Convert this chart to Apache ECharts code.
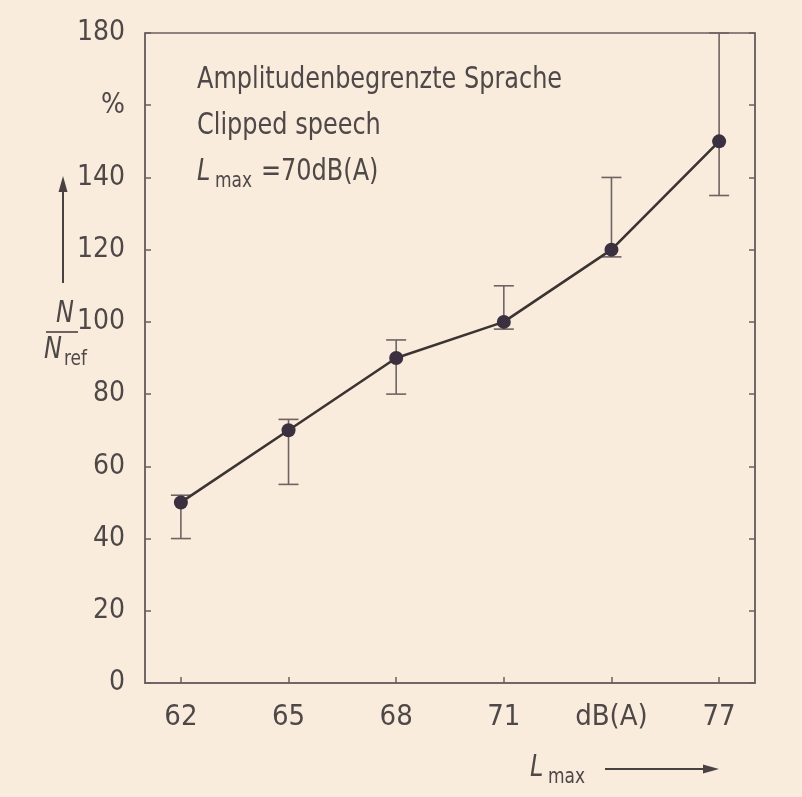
<!DOCTYPE html>
<html>
<head>
<meta charset="utf-8">
<script src="https://cdn.jsdelivr.net/npm/echarts@6/dist/echarts.min.js"></script>
<style>
html,body{margin:0;padding:0;background:#f9ecdc;}
#chart{width:802px;height:797px;}
</style>
</head>
<body>
<div id="chart"></div>
<script>
// Data
const xValues = [62, 65, 68, 71, 74, 77];
const yValues = [50, 70, 90, 100, 120, 150];
const errLow = [40, 55, 80, 98, 118, 135];
const errHigh = [52, 73, 95, 110, 140, 180];
const xTicks = [62, 65, 68, 71, 74, 77];
const xTickLabels = {62: '62', 65: '65', 68: '68', 71: '71', 74: 'dB(A)', 77: '77'};
const yTickLabels = {0:'0',20:'20',40:'40',60:'60',80:'80',100:'100',120:'120',140:'140',160:'%',180:'180'};
const textLines = ['Amplitudenbegrenzte Sprache', 'Clipped speech', '=70dB(A)'];

const FONT = '"DejaVu Sans Condensed", "DejaVu Sans", sans-serif';
const AX = '#6a5f5f';
const TXT = '#4f4848';
const DARK = '#4a4242';

const chart = echarts.init(document.getElementById('chart'), null, {renderer: 'canvas'});

const lineData = xValues.map((x, i) => [x, yValues[i]]);
const errData = xValues.map((x, i) => [x, errLow[i], errHigh[i]]);

function txt(left, top, text, size, italic, sx) {
  return {type: 'text', left: left, top: top, scaleX: sx || 0.86,
    style: {text: text, font: (italic ? 'italic ' : '') + size + 'px ' + FONT, fill: TXT}};
}

const option = {
  backgroundColor: '#f9ecdc',
  animation: false,
  grid: {left: 145, right: 47, top: 33, bottom: 114, show: true, borderColor: AX, borderWidth: 1.5, backgroundColor: 'transparent'},
  xAxis: {
    type: 'value', min: 61, max: 78,
    axisLine: {show: true, lineStyle: {color: AX, width: 1.5}},
    axisTick: {show: true, inside: true, length: 6, customValues: xTicks, lineStyle: {color: AX, width: 1.5}},
    axisLabel: {show: true, customValues: xTicks, margin: 20, color: TXT, fontFamily: FONT, fontSize: 29,
      formatter: v => xTickLabels[v]},
    splitLine: {show: false}
  },
  yAxis: [{
    type: 'value', min: 0, max: 180, interval: 20,
    axisLine: {show: true, lineStyle: {color: AX, width: 1.5}},
    axisTick: {show: true, inside: true, length: 6, lineStyle: {color: AX, width: 1.5}},
    axisLabel: {show: true, margin: 20, color: TXT, fontFamily: FONT, fontSize: 28,
      formatter: v => yTickLabels[v]},
    splitLine: {show: false}
  }, {
    type: 'value', min: 0, max: 180, interval: 20, position: 'right',
    axisLine: {show: true, lineStyle: {color: AX, width: 1.5}},
    axisTick: {show: true, inside: true, length: 6, lineStyle: {color: AX, width: 1.5}},
    axisLabel: {show: false},
    splitLine: {show: false}
  }],
  series: [{
    type: 'custom',
    data: errData,
    z: 2,
    renderItem: function (params, api) {
      const x = api.value(0);
      const lo = api.coord([x, api.value(1)]);
      const hi = api.coord([x, api.value(2)]);
      const hw = 10;
      const st = {stroke: '#6e6363', lineWidth: 1.6};
      return {type: 'group', children: [
        {type: 'line', shape: {x1: lo[0], y1: lo[1], x2: hi[0], y2: hi[1]}, style: st},
        {type: 'line', shape: {x1: lo[0]-hw, y1: lo[1], x2: lo[0]+hw, y2: lo[1]}, style: st},
        {type: 'line', shape: {x1: hi[0]-hw, y1: hi[1], x2: hi[0]+hw, y2: hi[1]}, style: st}
      ]};
    }
  }, {
    type: 'line',
    data: lineData,
    z: 3,
    symbol: 'circle',
    symbolSize: 14,
    lineStyle: {color: '#3c3333', width: 2.6},
    itemStyle: {color: '#3a3040', borderWidth: 0}
  }],
  graphic: [
    txt(197, 64, textLines[0], 31),
    txt(197, 110, textLines[1], 31),
    txt(197, 156, 'L', 31, true),
    txt(215, 170, 'max', 22),
    txt(261, 156, textLines[2], 31),
    // y axis name: arrow and fraction
    {type: 'line', shape: {x1: 63, y1: 283, x2: 63, y2: 186}, style: {stroke: DARK, lineWidth: 2}},
    {type: 'polygon', shape: {points: [[63, 176], [58.5, 192], [67.5, 192]]}, style: {fill: DARK}},
    txt(56, 298, 'N', 31, true),
    {type: 'line', shape: {x1: 46, y1: 332, x2: 78, y2: 332}, style: {stroke: DARK, lineWidth: 1.6}},
    txt(44, 334, 'N', 31, true),
    txt(64, 348, 'ref', 22),
    // x axis name
    txt(530, 752, 'L', 31, true),
    txt(548, 766, 'max', 22),
    {type: 'line', shape: {x1: 605, y1: 769, x2: 706, y2: 769}, style: {stroke: DARK, lineWidth: 2}},
    {type: 'polygon', shape: {points: [[719, 769], [703, 764.5], [703, 773.5]]}, style: {fill: DARK}}
  ]
};
chart.setOption(option);
</script>
</body>
</html>
